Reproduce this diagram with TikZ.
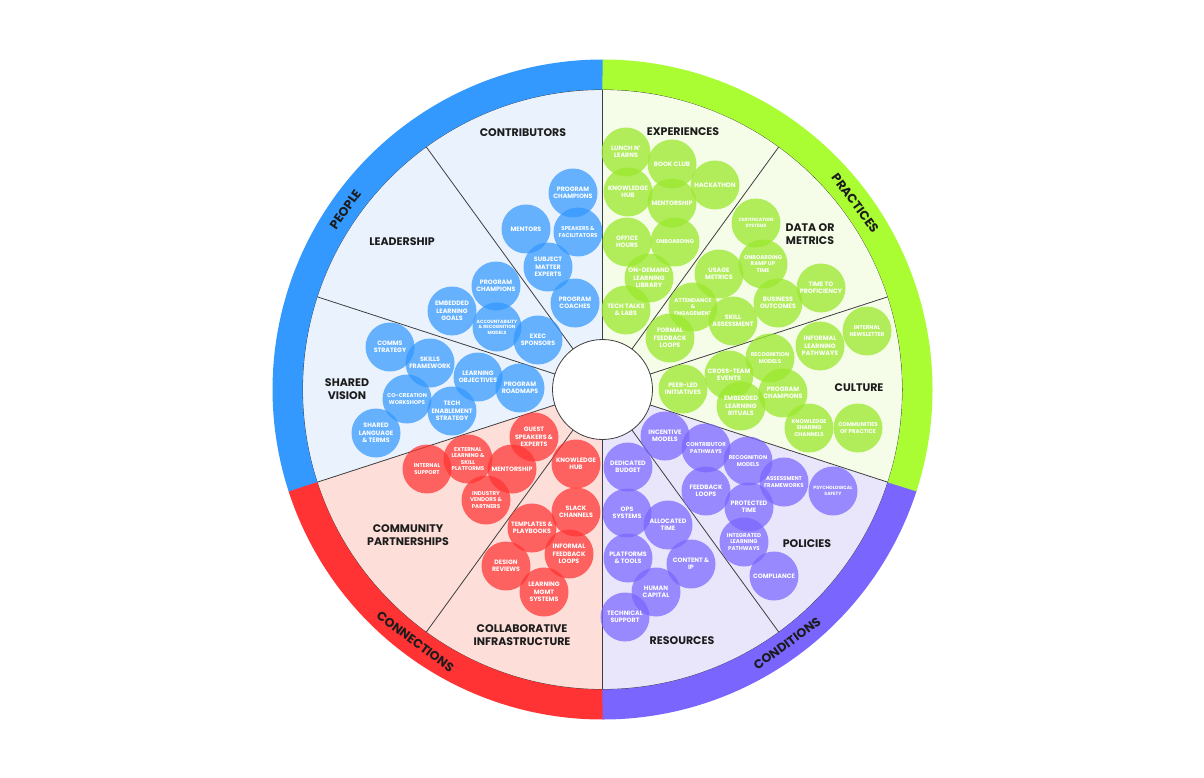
\documentclass[tikz,border=0pt]{standalone}
\usepackage{fontspec}
\setmainfont{Poppins}
\usetikzlibrary{calc}
\definecolor{peopleblue}{RGB}{51,153,255}
\definecolor{practicegreen}{RGB}{170,252,51}
\definecolor{connectred}{RGB}{255,51,51}
\definecolor{conditionpurple}{RGB}{122,102,255}
\definecolor{peoplebg}{RGB}{234,242,254}
\definecolor{practicebg}{RGB}{245,253,233}
\definecolor{connectbg}{RGB}{253,222,216}
\definecolor{conditionbg}{RGB}{233,230,252}
\definecolor{ink}{RGB}{28,28,28}

\begin{document}
\begin{tikzpicture}[
  x=1pt, y=-1pt,
  every node/.style={font=\bfseries},
  bubble/.style={circle, minimum size=49pt, inner sep=0pt, align=center,
    text=white, fill opacity=0.72, text opacity=1,
    font=\bfseries\fontsize{6.3}{7.4}\selectfont},
  bubsmall/.style={font=\bfseries\fontsize{5.5}{6.6}\selectfont},
  bubtiny/.style={font=\bfseries\fontsize{4.6}{5.6}\selectfont},
  people/.style={bubble, fill=peopleblue},
  practice/.style={bubble, fill=practicegreen!92!black, fill opacity=0.76},
  connect/.style={bubble, fill=connectred},
  condition/.style={bubble, fill=conditionpurple},
  sector/.style={align=center, text=ink, font=\bfseries\fontsize{11}{13}\selectfont},
  ringlabel/.style={text=ink, font=\bfseries\fontsize{12.5}{14}\selectfont},
  divider/.style={draw=ink!85, line width=0.8pt}
]

\fill[white] (0,0) rectangle (1204,778);
\useasboundingbox (0,0) rectangle (1204,778);
\coordinate (c) at (602.5,389.5);

% Quadrant backgrounds
\fill[peoplebg] (c) -- ++(-90:300) arc[start angle=-90, end angle=-198, radius=300] -- cycle;
\fill[connectbg] (c) -- ++(-198:300) arc[start angle=-198, end angle=-270, radius=300] -- cycle;
\fill[conditionbg] (c) -- ++(-270:300) arc[start angle=-270, end angle=-342, radius=300] -- cycle;
\fill[practicebg] (c) -- ++(18:300) arc[start angle=18, end angle=-90, radius=300] -- cycle;

% Sector dividers
\foreach \a in {90,126,162,198,234,270,306,342,18,54}
  \draw[divider] (c) -- ++(-\a:300);

% People -- Contributors
\node[people] (ct-champ) at (573,193) {PROGRAM\\CHAMPIONS};
\node[people] (ct-mentors) at (526,229) {MENTORS};
\node[people, bubsmall] (ct-speakers) at (578,232) {SPEAKERS \&\\FACILITATORS};
\node[people] (ct-sme) at (548,267) {SUBJECT\\MATTER\\EXPERTS};
\node[people] (ct-coaches) at (575,303) {PROGRAM\\COACHES};

% People -- Leadership
\node[people] (ld-champ) at (496,286) {PROGRAM\\CHAMPIONS};
\node[people] (ld-goals) at (452,311) {EMBEDDED\\LEARNING\\GOALS};
\node[people, bubtiny] (ld-account) at (497,327) {ACCOUNTABILITY\\\& RECOGNITION\\MODELS};
\node[people] (ld-exec) at (538,340) {EXEC\\SPONSORS};

% People -- Shared vision
\node[people] (sv-comms) at (390,347) {COMMS\\STRATEGY};
\node[people] (sv-skills) at (430,363) {SKILLS\\FRAMEWORK};
\node[people] (sv-objectives) at (478,377) {LEARNING\\OBJECTIVES};
\node[people] (sv-roadmaps) at (520,388) {PROGRAM\\ROADMAPS};
\node[people, bubsmall] (sv-cocreation) at (407,399) {CO-CREATION\\WORKSHOPS};
\node[people] (sv-tech) at (452,411) {TECH\\ENABLEMENT\\STRATEGY};
\node[people] (sv-language) at (376,433) {SHARED\\LANGUAGE\\\& TERMS};

% Connections -- Community partnerships
\node[connect] (cp-guest) at (534,437) {GUEST\\SPEAKERS \&\\EXPERTS};
\node[connect, bubsmall] (cp-internal) at (427,469) {INTERNAL\\SUPPORT};
\node[connect, bubsmall] (cp-external) at (468,459) {EXTERNAL\\LEARNING \&\\SKILL\\PLATFORMS};
\node[connect] (cp-mentorship) at (512,469) {MENTORSHIP};
\node[connect, bubsmall] (cp-vendors) at (486,500) {INDUSTRY\\VENDORS \&\\PARTNERS};

% Connections -- Collaborative infrastructure
\node[connect] (ci-hub) at (576,464) {KNOWLEDGE\\HUB};
\node[connect] (ci-slack) at (576,512) {SLACK\\CHANNELS};
\node[connect] (ci-templates) at (532,528) {TEMPLATES \&\\PLAYBOOKS};
\node[connect] (ci-feedback) at (569,554) {INFORMAL\\FEEDBACK\\LOOPS};
\node[connect] (ci-design) at (506,566) {DESIGN\\REVIEWS};
\node[connect] (ci-lms) at (544,592) {LEARNING\\MGMT\\SYSTEMS};

% Practices -- Experiences
\node[practice] (ex-lunch) at (626,152) {LUNCH N'\\LEARNS};
\node[practice] (ex-book) at (672,164) {BOOK CLUB};
\node[practice] (ex-hack) at (715,185) {HACKATHON};
\node[practice] (ex-hub) at (628,192) {KNOWLEDGE\\HUB};
\node[practice] (ex-mentorship) at (672,203) {MENTORSHIP};
\node[practice] (ex-office) at (627,242) {OFFICE\\HOURS};
\node[practice, bubsmall] (ex-onboarding) at (675,242) {ONBOARDING};
\node[practice] (ex-ondemand) at (649,278) {ON-DEMAND\\LEARNING\\LIBRARY};
\node[practice] (ex-talks) at (626,310) {TECH TALKS\\\& LABS};

% Practices -- Data or metrics
\node[practice, bubtiny] (dm-cert) at (756,223) {CERTIFICATION\\SYSTEMS};
\node[practice, bubsmall] (dm-ramp) at (763,264) {ONBOARDING\\RAMP UP\\TIME};
\node[practice] (dm-usage) at (719,274) {USAGE\\METRICS};
\node[practice] (dm-time) at (821,288) {TIME TO\\PROFICIENCY};
\node[practice, bubsmall] (dm-attend) at (693,307) {ATTENDANCE\\\&\\ENGAGEMENT};
\node[practice] (dm-business) at (778,303) {BUSINESS\\OUTCOMES};
\node[practice] (dm-skill) at (733,321) {SKILL\\ASSESSMENT};
\node[practice] (dm-formal) at (670,338) {FORMAL\\FEEDBACK\\LOOPS};

% Practices -- Culture
\node[practice, bubsmall] (cu-newsletter) at (867,331) {INTERNAL\\NEWSLETTER};
\node[practice] (cu-informal) at (820,346) {INFORMAL\\LEARNING\\PATHWAYS};
\node[practice, bubsmall] (cu-recog) at (770,358) {RECOGNITION\\MODELS};
\node[practice] (cu-cross) at (729,375) {CROSS-TEAM\\EVENTS};
\node[practice] (cu-peer) at (683,389) {PEER-LED\\INITIATIVES};
\node[practice] (cu-champ) at (783,393) {PROGRAM\\CHAMPIONS};
\node[practice] (cu-rituals) at (741,406) {EMBEDDED\\LEARNING\\RITUALS};
\node[practice, bubsmall] (cu-sharing) at (809,428) {KNOWLEDGE\\SHARING\\CHANNELS};
\node[practice, bubsmall] (cu-communities) at (858,428) {COMMUNITIES\\OF PRACTICE};

% Conditions -- Policies
\node[condition] (po-incentive) at (665,436) {INCENTIVE\\MODELS};
\node[condition, bubsmall] (po-contrib) at (706,448) {CONTRIBUTOR\\PATHWAYS};
\node[condition, bubsmall] (po-recog) at (748,461) {RECOGNITION\\MODELS};
\node[condition, bubsmall] (po-assess) at (784,482) {ASSESSMENT\\FRAMEWORKS};
\node[condition, bubtiny] (po-psych) at (833,491) {PSYCHOLOGICAL\\SAFETY};
\node[condition] (po-feedback) at (706,491) {FEEDBACK\\LOOPS};
\node[condition] (po-protected) at (749,507) {PROTECTED\\TIME};
\node[condition, bubsmall] (po-integrated) at (744,542) {INTEGRATED\\LEARNING\\PATHWAYS};
\node[condition] (po-compliance) at (774,576) {COMPLIANCE};

% Conditions -- Resources
\node[condition] (re-budget) at (628,467) {DEDICATED\\BUDGET};
\node[condition] (re-ops) at (627,513) {OPS\\SYSTEMS};
\node[condition] (re-allocated) at (668,525) {ALLOCATED\\TIME};
\node[condition] (re-platforms) at (628,558) {PLATFORMS\\\& TOOLS};
\node[condition] (re-content) at (691,564) {CONTENT \&\\IP};
\node[condition] (re-human) at (656,592) {HUMAN\\CAPITAL};
\node[condition] (re-support) at (625,617) {TECHNICAL\\SUPPORT};

% Hub and inner edge of the ring
\draw[divider] (c) circle[radius=300];
\node[circle, draw=ink!85, fill=white, line width=0.8pt, minimum size=100pt, inner sep=0pt] (hub) at (c) {};

% Sector titles
\node[sector] (contributors) at (523,133) {CONTRIBUTORS};
\node[sector] (leadership) at (402,242) {LEADERSHIP};
\node[sector] (vision) at (347,389) {SHARED\\VISION};
\node[sector] (community) at (408,535) {COMMUNITY\\PARTNERSHIPS};
\node[sector] (infrastructure) at (522,635) {COLLABORATIVE\\INFRASTRUCTURE};
\node[sector] (experiences) at (683,132) {EXPERIENCES};
\node[sector] (metrics) at (810,234) {DATA OR\\METRICS};
\node[sector] (culture) at (859,388) {CULTURE};
\node[sector] (resources) at (682,641) {RESOURCES};
\node[sector] (policies) at (807,544) {POLICIES};

% Outer ring
\draw[line width=30pt, peopleblue] (c) ++(-89.8:315) arc[start angle=-89.8, end angle=-198.2, radius=315];
\draw[line width=30pt, connectred] (c) ++(-198:315) arc[start angle=-198, end angle=-270.2, radius=315];
\draw[line width=30pt, conditionpurple] (c) ++(-270:315) arc[start angle=-270, end angle=-342.2, radius=315];
\draw[line width=30pt, practicegreen] (c) ++(18:315) arc[start angle=18, end angle=-90, radius=315];

\node[ringlabel, rotate=55] (people) at ($(c)+(-145:314)$) {PEOPLE};
\node[ringlabel, rotate=-53.6] (practices) at ($(c)+(-36.4:314)$) {PRACTICES};
\node[ringlabel, rotate=-36.6] (connections) at ($(c)+(-233.4:314)$) {CONNECTIONS};
\node[ringlabel, rotate=36] (conditions) at ($(c)+(54:314)$) {CONDITIONS};

\end{tikzpicture}
\end{document}
